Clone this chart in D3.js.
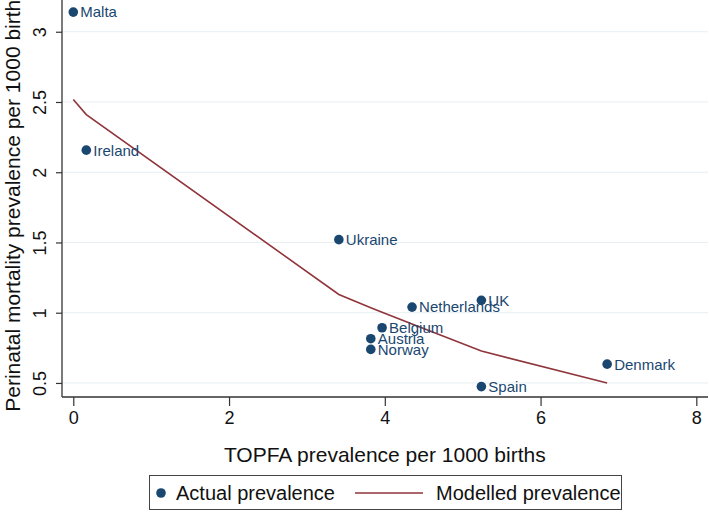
<!DOCTYPE html>
<html>
<head>
<meta charset="utf-8">
<script src="https://cdn.jsdelivr.net/npm/d3@7"></script>
<style>
  body { margin: 0; background: #fff; }
  svg { font-family: "Liberation Sans", Arial, sans-serif; }
</style>
</head>
<body>
<svg id="chart" width="709" height="512"></svg>
<script>
// country points (TOPFA prevalence, perinatal mortality)
var countries = ["Malta", "Ireland", "Ukraine", "Netherlands", "UK", "Belgium", "Austria", "Norway", "Denmark", "Spain"];
var topfa =     [0.0,     0.167,     3.41,      4.35,          5.24, 3.965,     3.82,     3.82,     6.855,     5.24];
var perinatal = [3.14,    2.157,     1.52,      1.04,          1.088, 0.893,    0.815,    0.739,    0.634,     0.474];

// modelled line
var modelX = [0.0,  0.167, 3.41, 3.82,  3.965, 4.35, 5.24, 6.855];
var modelY = [2.517, 2.41, 1.13, 1.036, 1.004, 0.92, 0.727, 0.5];

var xTicks = [0, 2, 4, 6, 8];
var yTicks = [0.5, 1, 1.5, 2, 2.5, 3];

var navy = "#1a476f", maroon = "#90353b";

var svg = d3.select("#chart");
var margin = {top: 0, right: 1, bottom: 115, left: 62},
    width = 709, height = 512,
    innerW = width - margin.left - margin.right,
    innerH = height - margin.top - margin.bottom;

var x = d3.scaleLinear().domain([-0.145, 8.15]).range([0, innerW]);
var y = d3.scaleLinear().domain([0.4, 3.226]).range([innerH, 0]);

var g = svg.append("g").attr("transform", "translate(" + margin.left + "," + margin.top + ")");

// gridlines
g.selectAll(".grid").data(yTicks).enter().append("line")
  .attr("x1", 0).attr("x2", innerW)
  .attr("y1", function(d) { return y(d); }).attr("y2", function(d) { return y(d); })
  .attr("stroke", "#e6eff2").attr("stroke-width", 1);

// axes
var xAxis = g.append("g").attr("transform", "translate(0," + innerH + ")")
  .call(d3.axisBottom(x).tickValues(xTicks).tickSize(9).tickPadding(5).tickFormat(d3.format("d")));
var yAxis = g.append("g")
  .call(d3.axisLeft(y).tickValues(yTicks).tickSize(6).tickPadding(5).tickFormat(function(d) { return d; }));

[xAxis, yAxis].forEach(function(a) {
  a.select(".domain").attr("stroke", "#333").attr("stroke-width", 1.3);
  a.selectAll(".tick line").attr("stroke", "#333").attr("stroke-width", 1.2);
  a.selectAll("text").attr("font-size", 18).attr("fill", "#111").attr("font-family", "Liberation Sans, Arial, sans-serif");
});
xAxis.select(".domain").attr("d", "M0,0H" + innerW);
yAxis.select(".domain").attr("d", "M0,0V" + innerH);

// rotate y tick labels
yAxis.selectAll(".tick text")
  .attr("text-anchor", "middle")
  .attr("dy", null)
  .attr("transform", "translate(-22,0) rotate(-90)")
  .attr("x", 0).attr("y", 0)
  .attr("dominant-baseline", "central");

// axis titles
svg.append("text")
  .attr("x", margin.left + x(4)).attr("y", 462)
  .attr("text-anchor", "middle").attr("font-size", 21).attr("fill", "#111")
  .text("TOPFA prevalence per 1000 births");
svg.append("text")
  .attr("transform", "translate(20," + (innerH / 2 + 2) + ") rotate(-90)")
  .attr("text-anchor", "middle").attr("font-size", 21).attr("fill", "#111")
  .text("Perinatal mortality prevalence per 1000 births");

// modelled line
var modelData = modelX.map(function(v, i) { return [v, modelY[i]]; });
g.append("path").datum(modelData)
  .attr("fill", "none").attr("stroke", maroon).attr("stroke-width", 1.6)
  .attr("d", d3.line().x(function(d) { return x(d[0]); }).y(function(d) { return y(d[1]); }));

// points + labels
var pts = countries.map(function(c, i) { return {name: c, x: topfa[i], y: perinatal[i]}; });
g.selectAll(".dot").data(pts).enter().append("circle")
  .attr("cx", function(d) { return x(d.x); })
  .attr("cy", function(d) { return y(d.y); })
  .attr("r", 4.8).attr("fill", navy);
g.selectAll(".lab").data(pts).enter().append("text")
  .attr("x", function(d) { return x(d.x) + 7; })
  .attr("y", function(d) { return y(d.y); })
  .attr("dy", "0.36em")
  .attr("font-size", 15).attr("fill", navy)
  .text(function(d) { return d.name; });

// legend
var leg = svg.append("g");
leg.append("rect").attr("x", 149.5).attr("y", 475.5).attr("width", 472).attr("height", 34)
  .attr("fill", "#fff").attr("stroke", "#444").attr("stroke-width", 1);
leg.append("circle").attr("cx", 161).attr("cy", 493).attr("r", 4.8).attr("fill", navy);
leg.append("text").attr("x", 176).attr("y", 493).attr("dy", "0.36em")
  .attr("font-size", 20).attr("fill", "#111").text("Actual prevalence");
leg.append("line").attr("x1", 355).attr("x2", 423).attr("y1", 493).attr("y2", 493)
  .attr("stroke", maroon).attr("stroke-width", 1.6);
leg.append("text").attr("x", 436).attr("y", 493).attr("dy", "0.36em")
  .attr("font-size", 20).attr("fill", "#111").text("Modelled prevalence");
</script>
</body>
</html>
